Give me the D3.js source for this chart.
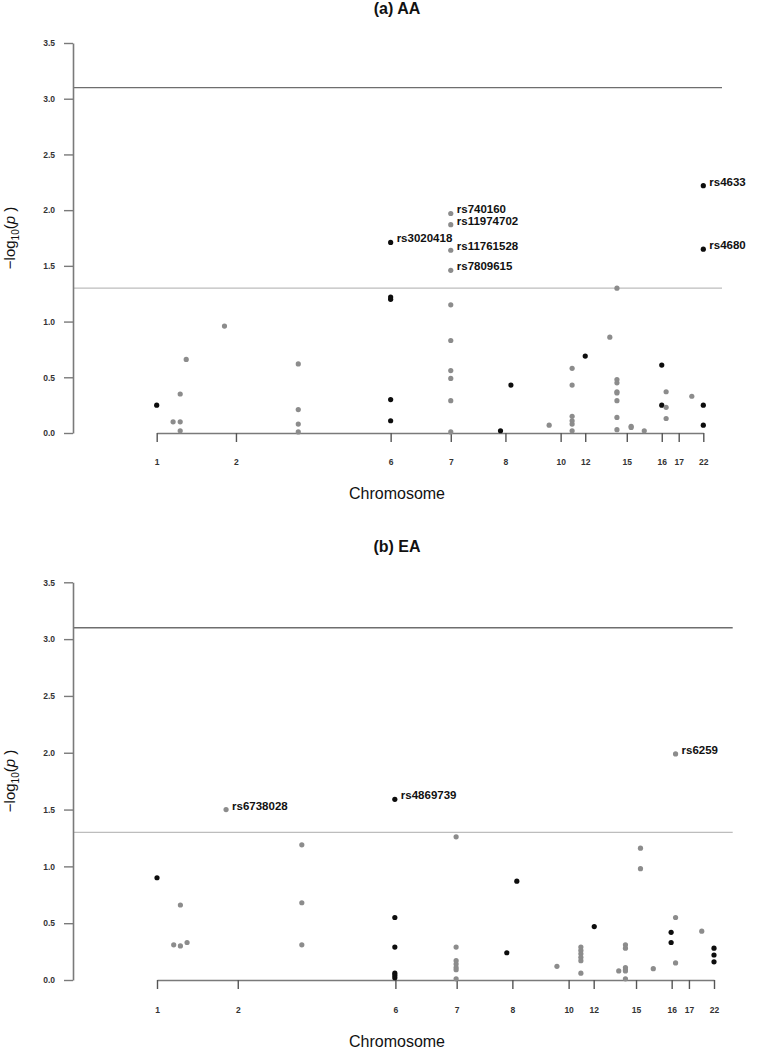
<!DOCTYPE html>
<html>
<head>
<meta charset="utf-8">
<script src="https://cdn.jsdelivr.net/npm/d3@7"></script>
<style>
  body { margin: 0; background: #fff; }
  svg { display: block; font-family: "Liberation Sans", Arial, sans-serif; }
</style>
</head>
<body>
<script>
// chromosome ticks (position along the genome axis, arbitrary units 0-1000)
var chromLabels = ["1", "2", "6", "7", "8", "10", "12", "15", "16", "17", "22"];
var chromPos = [0, 145, 428, 538, 638, 739, 784, 860, 924, 955, 1000];
var yTicks = [0, 0.5, 1, 1.5, 2, 2.5, 3, 3.5];

// significance thresholds
var thresholds = [3.1, 1.3];

// (a) AA
var aaPos = [0, 30, 43, 43, 43, 54, 124, 259, 259, 259, 259,
  428, 428, 428, 428, 428,
  538, 538, 538, 538, 538, 538, 538, 538, 538, 538,
  629, 648, 718, 760, 760, 760, 760, 760, 760, 784, 829,
  842, 842, 842, 842, 842, 842, 842, 842, 868, 868, 892,
  924, 924, 932, 932, 932, 979, 1000, 1000, 1000, 1000];
var aaLogP = [0.25, 0.10, 0.10, 0.35, 0.02, 0.66, 0.96, 0.62, 0.21, 0.08, 0.01,
  1.22, 1.20, 0.30, 0.11, 1.71,
  1.97, 1.87, 1.64, 1.46, 1.15, 0.83, 0.56, 0.49, 0.29, 0.01,
  0.02, 0.43, 0.07, 0.58, 0.43, 0.15, 0.11, 0.08, 0.02, 0.69, 0.86,
  1.30, 0.48, 0.45, 0.37, 0.36, 0.29, 0.14, 0.03, 0.06, 0.05, 0.02,
  0.61, 0.25, 0.37, 0.23, 0.13, 0.33, 0.25, 0.07, 2.22, 1.65];
var aaGroup = [0, 1, 1, 1, 1, 1, 1, 1, 1, 1, 1,
  0, 0, 0, 0, 0,
  1, 1, 1, 1, 1, 1, 1, 1, 1, 1,
  0, 0, 1, 1, 1, 1, 1, 1, 1, 0, 1,
  1, 1, 1, 1, 1, 1, 1, 1, 1, 1, 1,
  0, 0, 1, 1, 1, 1, 0, 0, 0, 0];
var aaSnp = ["", "", "", "", "", "", "", "", "", "", "",
  "", "", "", "", "rs3020418",
  "rs740160", "rs11974702", "rs11761528", "rs7809615", "", "", "", "", "", "",
  "", "", "", "", "", "", "", "", "", "", "",
  "", "", "", "", "", "", "", "", "", "", "",
  "", "", "", "", "", "", "", "", "rs4633", "rs4680"];

// (b) EA
var eaPos = [0, 42, 30, 42, 54, 124, 260, 260, 260,
  427, 427, 427, 427, 427, 427,
  537, 537, 537, 537, 537, 537, 537,
  628, 646, 718, 761, 761, 761, 761, 761, 761, 785, 829,
  841, 841, 841, 841, 841, 841, 868, 868, 891,
  923, 923, 931, 931, 931, 978, 1000, 1000, 1000];
var eaLogP = [0.90, 0.66, 0.31, 0.30, 0.33, 1.50, 1.19, 0.68, 0.31,
  1.59, 0.55, 0.29, 0.06, 0.04, 0.02,
  1.26, 0.29, 0.17, 0.14, 0.11, 0.09, 0.01,
  0.24, 0.87, 0.12, 0.29, 0.26, 0.23, 0.20, 0.17, 0.06, 0.47, 0.08,
  0.31, 0.28, 0.11, 0.09, 0.08, 0.01, 1.16, 0.98, 0.10,
  0.42, 0.33, 0.55, 0.15, 1.99, 0.43, 0.28, 0.22, 0.16];
var eaGroup = [0, 1, 1, 1, 1, 1, 1, 1, 1,
  0, 0, 0, 0, 0, 0,
  1, 1, 1, 1, 1, 1, 1,
  0, 0, 1, 1, 1, 1, 1, 1, 1, 0, 1,
  1, 1, 1, 1, 1, 1, 1, 1, 1,
  0, 0, 1, 1, 1, 1, 0, 0, 0];
var eaSnp = ["", "", "", "", "", "rs6738028", "", "", "",
  "rs4869739", "", "", "", "", "",
  "", "", "", "", "", "", "",
  "", "", "", "", "", "", "", "", "", "", "",
  "", "", "", "", "", "", "", "", "",
  "", "", "", "", "rs6259", "", "", "", ""];

var colours = ["#0d0d0d", "#8c8c8c"];

var svg = d3.select("body").append("svg")
  .attr("width", 758)
  .attr("height", 1050);

function drawPanel(cfg, pos, logp, group, snp) {
  var g = svg.append("g");
  var xScale = d3.scaleLinear().domain([0, 1000]).range([cfg.xLeft, cfg.xRight]);
  var yScale = d3.scaleLinear().domain([0, 3.5]).range([cfg.yZero, cfg.yTop]);

  //title
  g.append("text")
    .attr("x", 397)
    .attr("y", cfg.titleY)
    .attr("text-anchor", "middle")
    .attr("font-size", 16)
    .attr("font-weight", "bold")
    .attr("fill", "#111")
    .text(cfg.title);

  //threshold lines
  g.selectAll(".thr")
    .data(thresholds)
    .enter()
    .append("line")
    .attr("x1", cfg.axisX)
    .attr("x2", cfg.lineEnd)
    .attr("y1", function(d) { return yScale(d); })
    .attr("y2", function(d) { return yScale(d); })
    .attr("stroke", function(d, i) { return i == 0 ? "#6e6e6e" : "#bdbdbd"; })
    .attr("stroke-width", 1.3);

  //y axis
  var yAxis = g.append("g")
    .attr("transform", "translate(" + cfg.axisX + ",0)")
    .call(d3.axisLeft(yScale).tickValues(yTicks).tickFormat(d3.format(".1f"))
      .tickSize(9).tickSizeOuter(0));
  yAxis.select(".domain").attr("stroke", "#7a7a7a").attr("stroke-width", 1.6);
  yAxis.selectAll(".tick line").attr("stroke", "#7a7a7a").attr("stroke-width", 1.4);
  yAxis.selectAll(".tick text")
    .attr("x", -18)
    .attr("dy", "0.32em")
    .attr("font-size", 8.5)
    .attr("font-weight", "bold")
    .attr("fill", "#333");

  //x axis
  var xAxis = g.append("g")
    .attr("transform", "translate(0," + cfg.yZero + ")")
    .call(d3.axisBottom(xScale).tickValues(chromPos)
      .tickFormat(function(d, i) { return chromLabels[i]; })
      .tickSize(9).tickSizeOuter(0));
  xAxis.select(".domain").attr("stroke", "#7a7a7a").attr("stroke-width", 1.6);
  xAxis.selectAll(".tick line").attr("stroke", "#555").attr("stroke-width", 1.4);
  xAxis.selectAll(".tick text")
    .attr("y", cfg.xTickY)
    .attr("dy", "0")
    .attr("font-size", 8.5)
    .attr("font-weight", "bold")
    .attr("fill", "#333");

  //axis titles
  g.append("text")
    .attr("x", 397)
    .attr("y", cfg.xLabY)
    .attr("text-anchor", "middle")
    .attr("font-size", 16)
    .attr("fill", "#111")
    .text("Chromosome");

  var yl = g.append("text")
    .attr("transform", "translate(15," + cfg.yLabY + ") rotate(-90)")
    .attr("text-anchor", "middle")
    .attr("font-size", 15)
    .attr("fill", "#111");
  yl.append("tspan").text("\u2212log");
  yl.append("tspan").attr("font-size", 10).attr("dy", 4).text("10");
  yl.append("tspan").attr("dy", -4).text("(");
  yl.append("tspan").attr("font-style", "italic").text("p");
  yl.append("tspan").text(" )");

  //points
  var pts = pos.map(function(p, i) {
    return {pos: p, val: logp[i], grp: group[i], snp: snp[i]};
  });
  g.selectAll(".pt")
    .data(pts)
    .enter()
    .append("circle")
    .attr("cx", function(d) { return xScale(d.pos); })
    .attr("cy", function(d) { return yScale(d.val); })
    .attr("r", 2.6)
    .attr("fill", function(d) { return colours[d.grp]; });

  //snp labels
  g.selectAll(".lab")
    .data(pts.filter(function(d) { return d.snp != ""; }))
    .enter()
    .append("text")
    .attr("x", function(d) { return xScale(d.pos) + 6; })
    .attr("y", function(d) { return yScale(d.val); })
    .attr("font-size", 11.5)
    .attr("font-weight", "bold")
    .attr("fill", "#111")
    .text(function(d) { return d.snp; });
}

drawPanel({title: "(a) AA", titleY: 14, xLeft: 156.7, xRight: 703.3, yZero: 433, yTop: 43,
  axisX: 73, lineEnd: 722, xTickY: 31.5, xLabY: 499, yLabY: 238},
  aaPos, aaLogP, aaGroup, aaSnp);

drawPanel({title: "(b) EA", titleY: 552, xLeft: 157, xRight: 714, yZero: 980, yTop: 582.3,
  axisX: 73, lineEnd: 732.7, xTickY: 32.5, xLabY: 1047, yLabY: 781},
  eaPos, eaLogP, eaGroup, eaSnp);
</script>
</body>
</html>
